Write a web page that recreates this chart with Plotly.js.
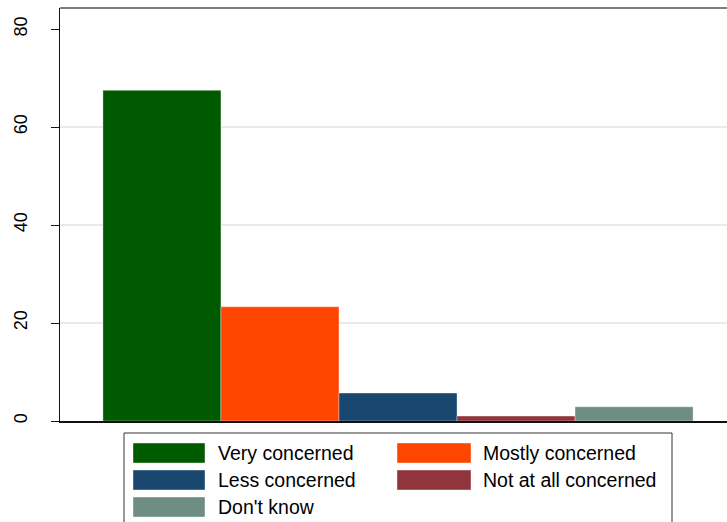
<!DOCTYPE html>
<html>
<head>
<meta charset="utf-8">
<script src="https://cdn.plot.ly/plotly-3.0.1.min.js"></script>
<style>html,body{margin:0;padding:0;background:#fff;overflow:hidden}#chart{width:727px;height:522px}</style>
</head>
<body>
<div id="chart"></div>
<script>
var categories = ["Very concerned", "Mostly concerned", "Less concerned", "Not at all concerned", "Don't know"];
var values = [67.5, 23.3, 5.7, 1.0, 2.9];
var colors = ["#005a00", "#ff4500", "#1a476f", "#90353b", "#6e8e84"];
var yTicks = [0, 20, 40, 60, 80];
var gridVals = [20, 40, 60];

var W = 727, H = 522, L = 60, R = 0, T = 8, B = 101;
var pw = W - L - R, ph = H - T - B;
function xp(px) { return (px - L) / pw; }
function yp(py) { return (H - B - py) / ph; }

var traces = categories.map(function (c, i) {
  return {
    type: "bar", x: ["all"], y: [values[i]], name: c,
    marker: { color: colors[i], line: { color: "rgba(255,255,255,0.35)", width: 1 } },
    hoverinfo: "skip"
  };
});

var shapes = gridVals.map(function (v) {
  return { type: "line", xref: "paper", yref: "y", x0: 0, x1: 1, y0: v, y1: v,
    line: { color: "#e3e3e3", width: 1.5 }, layer: "below" };
});
shapes.push({ type: "line", xref: "paper", yref: "paper", x0: 0, x1: 1, y0: 1, y1: 1,
  line: { color: "#555", width: 1.5 } });
// legend box
shapes.push({ type: "rect", xref: "paper", yref: "paper", x0: xp(124), x1: xp(672), y0: yp(433), y1: yp(540),
  line: { color: "#333", width: 1 }, fillcolor: "#fff" });

var annotations = [];
var colX = [[133, 205, 216], [397, 471, 481]];
var rowY = [453, 480, 507];
categories.forEach(function (c, i) {
  var col = colX[i % 2], ry = rowY[Math.floor(i / 2)];
  shapes.push({ type: "rect", xref: "paper", yref: "paper", x0: xp(col[0]), x1: xp(col[1]),
    y0: yp(ry - 10), y1: yp(ry + 10), fillcolor: colors[i], line: { color: "rgba(255,255,255,0.4)", width: 1 } });
  annotations.push({ xref: "paper", yref: "paper", x: xp(col[2]), y: yp(ry), text: c, showarrow: false,
    xanchor: "left", yanchor: "middle", font: { family: "Liberation Sans, Arial, sans-serif", size: 19.5, color: "#000" } });
});

var layout = {
  width: W, height: H,
  margin: { l: L, r: R, t: T, b: B, pad: 0 },
  paper_bgcolor: "#fff", plot_bgcolor: "#fff",
  barmode: "group", bargap: 0.127, bargroupgap: 0,
  showlegend: false,
  xaxis: { type: "category", range: [-0.5, 0.4867], showticklabels: false, ticks: "",
    showgrid: false, zeroline: false, showline: true, linecolor: "#111", linewidth: 1.5, fixedrange: true },
  yaxis: { range: [0, 84.3], tickvals: yTicks, ticktext: yTicks.map(String), tickangle: -90,
    ticks: "outside", ticklen: 8, tickcolor: "#111", tickwidth: 1, ticklabelstandoff: 16,
    showgrid: false, zeroline: false, showline: true, linecolor: "#111", linewidth: 1.5,
    tickfont: { family: "Liberation Sans, Arial, sans-serif", size: 18, color: "#000" }, fixedrange: true },
  shapes: shapes,
  annotations: annotations,
  font: { family: "Liberation Sans, Arial, sans-serif" }
};

Plotly.newPlot("chart", traces, layout, { displayModeBar: false, staticPlot: true });
</script>
</body>
</html>
